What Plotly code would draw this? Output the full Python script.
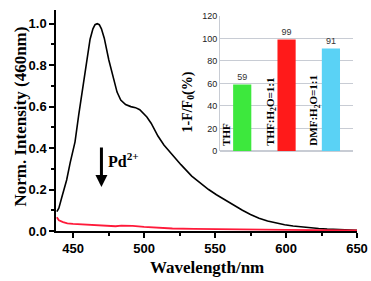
import plotly.graph_objects as go

# Main spectra
wl_black = [438.6, 440, 442, 445.5, 448, 451.4, 454, 457.4, 460, 462, 464, 465.5, 467, 468.5, 470, 472,
            475.2, 478.8, 481, 483.6, 487, 490.7, 494, 497, 499, 502, 505, 507.5, 509.8, 514, 519.3,
            526, 533.6, 540, 545.5, 551, 557.4, 563, 569.3, 575, 581, 587, 593, 599, 605, 611, 617, 623,
            629, 635, 641, 650]
int_black = [0.093, 0.11, 0.16, 0.246, 0.33, 0.43, 0.56, 0.712, 0.84, 0.925, 0.975, 0.995, 1.0, 0.995,
             0.975, 0.93, 0.825, 0.728, 0.67, 0.632, 0.61, 0.6, 0.595, 0.585, 0.572, 0.55, 0.52, 0.49,
             0.458, 0.415, 0.372, 0.32, 0.265, 0.228, 0.2, 0.175, 0.148, 0.123, 0.1, 0.08, 0.062, 0.048,
             0.038, 0.03, 0.024, 0.019, 0.015, 0.012, 0.009, 0.007, 0.005, 0.003]

wl_red = [438.6, 440, 443, 446, 450, 460, 470, 476, 480, 484, 488, 492, 500, 510, 520, 535, 550, 575, 600, 625, 650]
int_red = [0.066, 0.052, 0.043, 0.037, 0.034, 0.031, 0.029, 0.027, 0.023, 0.026, 0.027, 0.025, 0.02, 0.016, 0.012, 0.01, 0.008, 0.006, 0.005, 0.004, 0.003]

# Inset bar chart
inset_cats = ["THF", "THF:H<sub>2</sub>O=1:1", "DMF:H<sub>2</sub>O=1:1"]
inset_vals = [59, 99, 91]
inset_colors = ["#3de83d", "#ff1a1a", "#5ad2f5"]

serif = "Liberation Serif"
sans = "Liberation Sans"

fig = go.Figure()
fig.add_trace(go.Scatter(x=wl_black, y=int_black, mode="lines",
                         line=dict(color="black", width=1.6),
                         showlegend=False))
fig.add_trace(go.Scatter(x=wl_red, y=int_red, mode="lines",
                         line=dict(color="#ff1a3a", width=1.8),
                         showlegend=False))

fig.add_trace(go.Bar(x=[0, 1, 2], y=inset_vals, marker=dict(color=inset_colors, line=dict(width=0)),
                     width=0.41, text=[str(v) for v in inset_vals], textposition="outside",
                     textfont=dict(family=sans, size=9, color="#333"), cliponaxis=False,
                     xaxis="x2", yaxis="y2", showlegend=False))

fig.update_layout(
    width=371, height=281,
    margin=dict(l=56, r=14, t=10, b=50),
    paper_bgcolor="white", plot_bgcolor="white",
    xaxis=dict(range=[438, 650], showline=True, linecolor="black", linewidth=1.5, automargin=False,
               ticks="outside", ticklen=5, tickwidth=1.5, tickcolor="black",
               tickvals=[450, 500, 550, 600, 650], showgrid=False, zeroline=False,
               minor=dict(tickvals=[475, 525, 575, 625], ticks="outside", ticklen=3, tickwidth=1.5, tickcolor="black"),
               tickfont=dict(family=sans, size=13, color="black", weight="bold")),
    yaxis=dict(range=[0, 1.066], showline=True, linecolor="black", linewidth=1.5, automargin=False,
               ticks="outside", ticklen=5, tickwidth=1.5, tickcolor="black",
               tickvals=[0, 0.2, 0.4, 0.6, 0.8, 1.0], ticktext=["0.0", "0.2", "0.4", "0.6", "0.8", "1.0"],
               showgrid=False, zeroline=False,
               minor=dict(tickvals=[0.1, 0.3, 0.5, 0.7, 0.9], ticks="outside", ticklen=3, tickwidth=1.5, tickcolor="black"),
               tickfont=dict(family=sans, size=13, color="black", weight="bold")),
    xaxis2=dict(domain=[0.545, 0.987], anchor="y2", range=[-0.5, 2.5], showticklabels=False, automargin=False,
                showgrid=False, zeroline=False, showline=False, ticks=""),
    yaxis2=dict(domain=[0.362, 0.973], anchor="x2", range=[0, 120], tickvals=[0, 20, 40, 60, 80, 100, 120],
                showgrid=True, gridcolor="#c8ccd4", gridwidth=1, zeroline=True, zerolinecolor="#c8ccd4",
                showline=True, linecolor="#c8ccd4", linewidth=1, ticks="", automargin=False,
                tickfont=dict(family=sans, size=9, color="#222")),
    shapes=[dict(type="rect", xref="x2 domain", yref="y2 domain", x0=0, x1=1, y0=0, y1=1,
                 fillcolor="white", line=dict(width=0), layer="below")],
)

# Axis titles
fig.add_annotation(x=(207 - 56) / 301, y=(231 - 279) / 221, xref="paper", yref="paper",
                   text="<b>Wavelength/nm</b>", showarrow=False, yanchor="bottom",
                   font=dict(family=serif, size=17, color="black"))
fig.add_annotation(x=(9 - 56) / 301, y=(231 - 117) / 221, xref="paper", yref="paper",
                   text="<b>Norm. Intensity (460nm)</b>", showarrow=False, textangle=-90,
                   font=dict(family=serif, size=17, color="black"))

# Inset category labels (rotated)
for i, c in enumerate(inset_cats):
    fig.add_annotation(x=i - 0.37, y=3, xref="x2", yref="y2", text="<b>" + c + "</b>", textangle=-90,
                       showarrow=False, xanchor="center", yanchor="bottom",
                       font=dict(family=serif, size=11, color="black"))

# Inset y title
fig.add_annotation(x=(188 - 56) / 301, y=(231 - 70) / 221, xref="paper", yref="paper",
                   text="<b>1-F/F<sub>0</sub>(%)</b>",
                   textangle=-90, showarrow=False, font=dict(family=serif, size=14, color="black"))

# Arrow and Pd2+ label
fig.add_annotation(x=470, y=(231 - 187) / 207.3, xref="x", yref="y", ax=0, ay=-41, text="",
                   showarrow=True, arrowhead=2, arrowsize=0.8, arrowwidth=3, arrowcolor="black")
fig.add_annotation(x=473, y=(231 - 160) / 207.3, xref="x", yref="y", text="<b>Pd<sup>2+</sup></b>",
                   showarrow=False, xanchor="left", font=dict(family=serif, size=16, color="black"))

fig.write_html("out.html", config={"displayModeBar": False},
               post_script="document.body.style.margin='0';")
